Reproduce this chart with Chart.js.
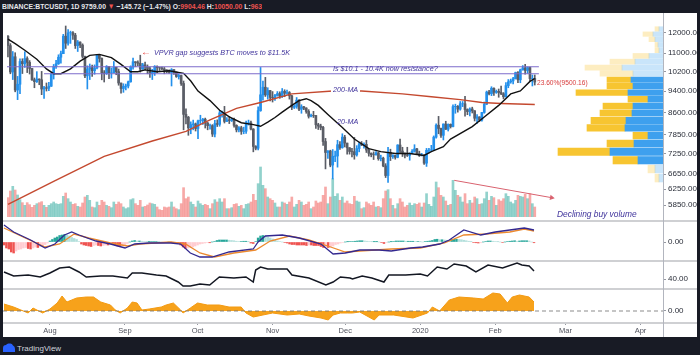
<!DOCTYPE html>
<html><head><meta charset="utf-8">
<script src="https://cdn.jsdelivr.net/npm/chart.js"></script>
<style>
html,body{margin:0;padding:0;background:#181b25;width:700px;height:355px;overflow:hidden;font-family:'Liberation Sans',Arial,sans-serif}
#panel{position:absolute;left:3px;top:13px;width:694px;height:324px;background:#fff}
canvas{position:absolute}
.sep{position:absolute;left:3px;width:694px;height:2px;background:#cfd0d3}
.ann{position:absolute;white-space:nowrap;font-style:italic;color:#40349c;font-family:'Liberation Sans',Arial,sans-serif;line-height:1}
#hdr{position:absolute;left:2px;top:2px;width:306px;height:11px;overflow:hidden;white-space:nowrap;font:bold 8px 'Liberation Sans',Arial,sans-serif;color:#e8e9ed;line-height:9px;transform:scaleX(0.85);transform-origin:0 0}
#hdr .r{color:#ef5350}
#logo{position:absolute;left:3px;top:343px;height:10px;font:8px 'Liberation Sans',Arial,sans-serif;color:#d1d4dc;line-height:10px;white-space:nowrap}
</style></head><body>
<div id="hdr">BINANCE:BTCUSDT, 1D 9759.00 <span class="r">▼</span> −145.72 (−1.47%) O:<span class="r">9904.46</span> H:<span class="r">10050.00</span> L:<span class="r">9638.12</span> C:<span class="r">9759.00</span></div>
<div id="panel"></div>
<canvas id="cPrice" width="694" height="208" style="left:3px;top:13px;width:694px;height:208px"></canvas>
<canvas id="cVp" width="660" height="208" style="left:3px;top:13px;width:660px;height:208px"></canvas>
<canvas id="cMacd" width="694" height="40" style="left:3px;top:221px;width:694px;height:40px"></canvas>
<canvas id="cRsi" width="694" height="28" style="left:3px;top:261px;width:694px;height:28px"></canvas>
<canvas id="cOsc" width="694" height="48" style="left:3px;top:289px;width:694px;height:48px"></canvas>
<div class="sep" style="top:220px"></div>
<div class="sep" style="top:260px"></div>
<div class="sep" style="top:288px"></div>
<div class="sep" style="top:322px"></div>
<div style="position:absolute;left:663px;top:13px;width:1px;height:324px;background:#b2b5be"></div>

<div class="ann" style="left:141px;top:47px;font-size:10px;font-style:normal;font-weight:bold;color:#e53935">←</div>
<div class="ann" style="left:154px;top:49px;font-size:7.2px">VPVR gap suggests BTC moves to $11.5K</div>
<div class="ann" style="left:333px;top:65px;font-size:7.2px">Is $10.1 - 10.4K now resistance?</div>
<div class="ann" style="left:331px;top:86px;font-size:7.2px;background:#fff;padding:0 2px">200-MA</div>
<div class="ann" style="left:337px;top:118px;font-size:7.2px">20-MA</div>
<div class="ann" style="left:537px;top:80px;font-size:6.6px;font-style:normal;color:#d83b3b">23.60%(9500.16)</div>
<div class="ann" style="left:557px;top:210px;font-size:8.4px">Declining buy volume</div>

<div id="logo"><svg width="12" height="9" viewBox="0 0 12 9" style="vertical-align:-1px"><path d="M0 9 L0 5 Q0 2 3 2 Q4 0 6.5 0.5 Q9 0 10 2.5 Q12 3 12 6 L12 9 Z" fill="#2962ff"/></svg> TradingView</div>

<script>
// ---------------- DATA ----------------
// daily candles, BINANCE:BTCUSDT, 2019-07-13 .. 2020-02-17 (index 0 = Jul 13)
const open = [11810,11355,10175,10840,9440,9670,10630,10530,10760,10590,10325,9850,9775,9880,9850,9480,9530,9510,9590,
10085,10400,10530,10820,10980,11810,11470,11975,11980,11860,11355,11525,11380,10860,10015,10300,10360,10230,10345,10920,10765,10135,10110,10405,10140,10140,10375,10190,9720,9500,9585,
9600,9770,10385,10620,10580,10550,10300,10480,10390,10320,10100,10160,10415,10360,10350,10305,10260,10185,10155,10275,10170,9985,10030,9700,8530,8430,8065,8175,8200,8045,
8305,8315,8360,8230,8140,8140,7860,8210,8185,8585,8590,8285,8340,8315,8355,8150,8000,8070,7950,7955,8230,8235,8025,7465,7410,8665,9255,9550,9250,9420,9155,
9140,9230,9300,9195,9385,9315,9340,9215,8785,8820,9050,8715,8805,8760,8635,8465,8495,8490,8170,8125,8080,7620,7280,7325,6910,7165,7175,7520,7430,7760,
7570,7425,7310,7305,7210,7400,7545,7510,7530,7355,7255,7215,7210,7270,7095,7110,6885,6615,7280,7155,7190,7135,7510,7325,7250,7205,7195,7255,7315,7390,7245,
7195,7200,6965,7345,7355,7360,7760,8155,8045,7820,8195,8020,8185,8110,8810,8820,8720,8915,8915,8705,8630,8725,8660,8395,8440,8330,8600,8900,9360,9295,9510,
9350,9390,9345,9295,9180,9615,9765,9805,9895,10150,9850,10270,10350,10240,10365,9900,9905];
const high = [11840,11450,11080,11025,9990,10750,10750,11070,10840,10670,10330,9925,10190,9890,10200,9590,9720,9750,10130,
10500,10680,10930,11100,11900,12320,12140,12060,12040,11950,11600,11540,11440,10875,10440,10520,10470,10480,10950,10950,10790,10235,10450,10420,10350,10630,10380,10300,9720,9690,9680,
9800,10440,10780,10620,10660,10910,10550,10600,10480,10390,10290,10450,10440,10380,10380,10370,10275,10270,10320,10280,10180,10090,10050,9800,8730,8460,8270,8330,8230,8330,
8500,8390,8400,8250,8190,8175,8320,8340,8660,8650,8820,8420,8460,8390,8400,8170,8110,8120,8090,8300,8330,8300,8040,7490,8800,10370,9800,9950,9530,9430,9380,
9270,9380,9370,9500,9450,9440,9380,9235,8880,9150,9070,8880,8820,8770,8700,8540,8640,8500,8220,8190,8115,7720,7340,7350,7370,7320,7660,7620,7870,7820,
7570,7430,7410,7750,7490,7600,7620,7580,7660,7400,7270,7300,7310,7290,7200,7140,6950,7440,7380,7220,7200,7520,7700,7440,7270,7440,7270,7370,7520,7410,7320,
7255,7215,7405,7405,7500,7800,8200,8460,8055,8200,8290,8200,8200,8880,8900,8850,9000,9000,9200,8730,8770,8790,8665,8520,8450,8600,8980,9400,9430,9570,9530,
9440,9480,9600,9340,9740,9860,9880,9950,10170,10190,10300,10450,10500,10390,10380,10050,10050];
const low = [10830,10100,9860,9370,9070,9300,10110,10370,10150,10090,9820,9530,9740,9650,9260,9115,9400,9410,9580,
9880,10330,10500,10560,10980,11220,11380,11460,11650,11220,11080,11260,10780,9940,9480,9860,9990,10080,10310,10600,9850,9760,10070,9900,9920,10140,10060,9630,9320,9350,9440,
9520,9750,10290,10400,10450,10170,10290,10270,10100,9950,9860,10030,10150,10240,10270,10100,10140,10120,9600,10070,9950,9880,9620,8000,8200,7820,7870,8000,7960,7710,
8210,8180,8060,8000,8020,7780,7770,8110,8120,8430,8230,8280,8210,8280,8090,7930,7930,7850,7870,7880,8160,8000,7300,7360,7360,8640,9050,9190,9090,9020,8980,
9040,9200,9120,9150,9180,9270,9090,8700,8740,8750,8660,8570,8700,8570,8400,8440,8420,8050,8010,8000,7500,6800,7100,6860,6520,7010,6850,7370,7410,7450,
7230,7230,7150,7080,7170,7300,7490,7410,7280,7170,7150,7070,7200,7050,7030,6860,6560,6430,7040,7100,7080,7120,7260,7160,7120,7160,7050,7250,7290,7220,7160,
7175,6925,6870,7270,7310,7350,7730,7870,7750,7670,8010,7960,8060,8100,8570,8610,8680,8810,8470,8520,8480,8580,8300,8220,8280,8290,8570,8880,9250,9220,9230,
9310,9160,9260,9100,9160,9530,9710,9680,9880,9730,9730,10250,10080,10120,9800,9600,9638];
const close = [11355,10175,10840,9440,9670,10630,10530,10760,10590,10325,9850,9775,9880,9850,9480,9530,9510,9590,10085,
10400,10530,10820,10980,11810,11470,11975,11980,11860,11355,11525,11380,10860,10015,10300,10360,10230,10345,10920,10765,10135,10110,10405,10140,10140,10375,10190,9720,9500,9585,9600,
9770,10385,10620,10580,10550,10300,10480,10390,10320,10100,10160,10415,10360,10350,10305,10260,10185,10155,10275,10170,9985,10030,9700,8530,8430,8065,8175,8200,8045,8305,
8315,8360,8230,8140,8140,7860,8210,8185,8585,8590,8285,8340,8315,8355,8150,8000,8070,7950,7955,8230,8235,8025,7465,7410,8665,9255,9550,9250,9420,9155,9140,
9230,9300,9195,9385,9315,9340,9215,8785,8820,9050,8715,8805,8760,8635,8465,8495,8490,8170,8125,8080,7620,7280,7325,6910,7165,7175,7520,7430,7760,7570,
7425,7310,7305,7210,7400,7545,7510,7530,7355,7255,7215,7210,7270,7095,7110,6885,6615,7280,7155,7190,7135,7510,7325,7250,7205,7195,7255,7315,7390,7245,7195,
7200,6965,7345,7355,7360,7760,8155,8045,7820,8195,8020,8185,8110,8810,8820,8720,8915,8915,8705,8630,8725,8660,8395,8440,8330,8600,8900,9360,9295,9510,9350,
9390,9345,9295,9180,9615,9765,9805,9895,10150,9850,10270,10350,10240,10365,9900,9905,9759];
// daily volume (thousand BTC)
const volume = [58,78,92,81,66,52,43,35,43,37,29,35,40,43,46,35,29,35,40,
45,40,38,40,62,72,55,45,38,40,32,30,42,60,65,50,30,28,45,35,50,45,35,32,28,45,38,45,40,30,25,
28,52,55,40,35,50,30,32,36,42,40,38,30,22,20,30,28,30,45,30,25,22,40,88,55,60,45,38,30,48,
40,35,38,35,25,40,52,45,55,45,55,25,25,28,38,40,32,35,25,38,40,45,68,50,100,150,95,85,60,55,50,
42,30,30,45,42,38,45,60,30,38,50,45,35,38,45,25,30,48,42,45,65,90,40,60,115,62,70,50,60,42,
48,40,38,62,48,45,25,28,45,40,35,45,30,32,28,55,78,82,55,35,25,40,55,45,30,35,42,35,40,38,42,
30,42,70,38,32,60,105,88,65,60,48,35,38,110,80,65,60,45,70,40,50,42,60,55,38,40,55,75,50,62,58,
35,52,48,55,70,62,45,40,50,65,62,60,68,55,70,40,30];
// moving averages: [day, price]
const ma20 = [[0,11669],[3,11450],[7,11140],[12,10729],[16,10307],[19,10103],[22,10103],[26,10307],[30,10643],[34,10902],[38,10947],[43,10800],[47,10500],[51,10184],[54,10184],[57,10265],[62,10184],[67,10225],[73,10120],[76,9800],[79,9400],[84,9034],[88,8680],[92,8440],[97,8239],[102,8173],[105,8120],[108,8260],[111,8420],[114,8610],[118,8855],[121,9034],[124,9105],[126,9034],[129,8855],[133,8530],[139,8076],[144,7698],[150,7396],[155,7307],[161,7248],[167,7248],[173,7190],[176,7307],[181,7456],[184,7698],[193,8108],[198,8440],[204,8855],[209,9289],[213,9402],[217,9785],[219,9904]];
const ma200 = [[0,5866],[19,6455],[40,7163],[60,7637],[74,7948],[84,8339],[95,8748],[105,8962],[118,9289],[135,9402],[147,9402],[164,9289],[176,9179],[188,9070],[197,8962],[205,8926],[219,8890]];
// resistance band and declining-volume arrow
const resHigh = 10400, resLow = 10100;
const resSpan = [[-0.4,220.7],[15,220.7]];
const volArrow = [[185.5,110],[226,58]];
// MACD pane: [day, value]
const macdLine = [[0,340],[4,200],[11,40],[17,-120],[21,-40],[25,140],[28,200],[31,140],[38,20],[44,-40],[50,-120],[54,-40],[60,-20],[69,-20],[73,-40],[77,-220],[81,-300],[86,-300],[93,-200],[103,-140],[105,0],[108,120],[115,140],[122,80],[131,-40],[136,-240],[141,-220],[147,-160],[155,-160],[160,-180],[168,-120],[173,-100],[180,-40],[184,40],[190,240],[197,140],[203,200],[209,240],[215,280],[219,240]];
const signalLine = [[0,280],[7,120],[17,-100],[23,-40],[29,160],[35,80],[44,-20],[51,-80],[56,-40],[69,0],[75,-40],[81,-220],[87,-300],[95,-220],[104,-160],[110,20],[118,120],[126,40],[135,-100],[141,-200],[147,-180],[160,-140],[172,-120],[182,-20],[190,140],[199,160],[209,200],[215,260],[219,220]];
const macdHist = [-60,-120,-140,-200,-220,-180,-150,-140,-120,-110,-130,-140,-120,-100,-110,-90,-70,-50,-20,
20,50,80,100,130,140,150,140,120,90,70,50,
10,-40,-60,-70,-80,-90,-70,-60,-70,-80,-70,-60,-60,-50,-50,-60,-80,-90,-80,
-60,-30,0,20,30,20,20,15,10,5,5,10,10,10,5,0,-5,-5,0,-5,-10,-10,-20,
-60,-100,-130,-120,-110,-100,-80,
-60,-40,-30,-20,-10,-15,0,10,30,40,40,40,40,35,30,25,15,10,10,15,15,5,-20,-30,
10,80,120,130,120,100,80,60,40,20,10,0,-10,-20,
-40,-50,-50,-60,-60,-60,-60,-70,-60,-60,-70,-70,-70,-90,-110,-100,-110,-100,-80,-50,-40,-20,-10,
0,5,10,10,15,20,25,25,20,15,10,5,5,5,0,-10,-30,-10,0,5,10,20,20,20,20,15,15,15,15,10,10,
5,0,10,15,20,30,50,55,45,45,40,35,30,50,55,55,50,45,35,25,15,5,-10,-15,-20,-15,0,10,20,20,15,
10,5,0,-10,0,10,15,20,25,15,20,25,25,25,20,0,-15];
// oscillator pane (black line): [day, value]
const rsiLine = [[0,50.5],[4,44.5],[10,46],[15,43],[19,49],[23,56.5],[27,58],[31,50.5],[34,43],[40,44.5],[45,44.5],[51,41.5],[53,49],[57,49],[63,46],[67,44.5],[72,35.5],[74,29.5],[77,29.5],[81,32.5],[85,31],[89,43],[95,41.5],[100,43],[103,35.5],[104,53.5],[106,58],[109,55],[117,55],[119,46],[126,41.5],[133,31],[136,35.5],[139,43],[143,41.5],[144,40],[148,44.5],[152,41.5],[157,35.5],[159,46],[166,46],[172,47.5],[175,44.5],[179,58],[183,55],[186,62.5],[191,59.5],[195,50.5],[200,61],[206,56.5],[212,64],[214,61],[217,59.5],[219,52]];
// orange area pane: [day, value]
const oscArea = [[0,7],[4,4],[7,1],[10,-2],[12,3],[16,-2],[19,2],[22,8],[24,15],[26,9],[30,13],[34,14],[37,14],[40,9],[44,6],[46,1],[48,-2],[51,3],[53,9],[55,8],[57,1],[60,2],[65,4],[67,6],[70,8],[73,1],[74,-2],[77,3],[80,8],[84,6],[89,6],[93,4],[98,4],[100,-2],[103,-6],[107,-4],[111,-2],[117,-4],[122,-3],[126,-5],[131,-7],[134,-9],[136,-4],[139,-2],[142,-2],[144,-2],[147,-1],[153,-9],[155,-4],[161,-4],[169,-7],[175,-2],[177,4],[180,0],[184,11],[188,14],[194,13],[198,12],[202,18],[205,17],[208,8],[210,14],[213,16],[217,14],[219,9]];
// visible-range volume profile
const vpBins = [12000,11755,11510,11265,11020,10775,10530,10285,10040,9795,9550,9305,9060,8815,8570,8325,8080,7835,7590,7345,7100,6855,6610];
const vpUp   = [4,10,8,5,4,14,28,41,30,32,30,35,15,30,31,37,38,15,29,53,25,8,4];
const vpDown = [4,10,6,3,4,16,25,37,33,24,26,52,20,30,32,35,38,15,27,52,25,7,4];
const vpValueArea = [6980, 9920];
// axes
const priceTicks = [12000,11000,10200,9400,8600,7850,7250,6650,6250,5850];
const monthDays = [19,50,80,111,141,172,203,232,263];
const monthLabels = ['Aug','Sep','Oct','Nov','Dec','2020','Feb','Mar','Apr'];

// ---------------- CHARTS ----------------
const X_MIN = -0.4, X_MAX = 272.3, P_MIN = 5567, P_MAX = 12790, VOL_MAX = 600;
const UP = '#2390ec', DOWN = '#5a5d66';
Chart.defaults.font.family = "'Liberation Sans Narrow','Liberation Sans',Arial,sans-serif";
Chart.defaults.animation = false;
const pts = a => a.map(([x, y]) => ({x, y}));
const fitRight = s => { s.width = 34; s.paddingTop = 0; s.paddingBottom = 0; };
const baseOpts = () => ({
  responsive: false, devicePixelRatio: 1, animation: false,
  layout: {padding: 0},
  plugins: {legend: {display: false}, tooltip: {enabled: false}},
  events: []
});
const rightAxis = (min, max, ticks, fmt, type) => ({
  type: type || 'linear', position: 'right', min, max,
  afterBuildTicks: s => { s.ticks = ticks.map(v => ({value: v})); },
  afterFit: fitRight,
  ticks: {callback: v => fmt(v), font: {size: 8}, color: '#2a2e39', padding: 2, autoSkip: false, maxRotation: 0},
  grid: {drawOnChartArea: false, tickLength: 3, color: '#9598a1'},
  border: {display: false}
});
const hiddenX = () => ({type: 'linear', min: X_MIN, max: X_MAX, display: false, offset: false});

const isUp = close.map((c, i) => c >= open[i]);
const candleCol = isUp.map(u => u ? UP : DOWN);
const volCol = isUp.map(u => u ? 'rgba(38,166,154,0.5)' : 'rgba(239,83,80,0.5)');

new Chart(document.getElementById('cPrice'), {
  type: 'bar',
  data: {datasets: [
    {data: volume.map((v, i) => ({x: i, y: v})), yAxisID: 'yv', backgroundColor: volCol, barThickness: 2, grouped: false, order: 10},
    {data: close.map((c, i) => ({x: i, y: [low[i], high[i]]})), yAxisID: 'y', backgroundColor: candleCol, barThickness: 1, grouped: false, order: 8},
    {data: close.map((c, i) => ({x: i, y: [open[i], c]})), yAxisID: 'y', backgroundColor: candleCol, barThickness: 2, grouped: false, order: 7},
    {type: 'line', data: pts(ma200), yAxisID: 'y', borderColor: '#c4492f', borderWidth: 1.4, pointRadius: 0, tension: 0, order: 5},
    {type: 'line', data: pts(ma20), yAxisID: 'y', borderColor: '#111', borderWidth: 1.4, pointRadius: 0, tension: 0, order: 4},
    {type: 'line', data: [{x: resSpan[0][0], y: resHigh}, {x: resSpan[0][1], y: resHigh}], yAxisID: 'y', borderColor: '#7d6bcb', borderWidth: 1.2, pointRadius: 0, order: 3},
    {type: 'line', data: [{x: resSpan[1][0], y: resLow}, {x: resSpan[1][1], y: resLow}], yAxisID: 'y', borderColor: '#7d6bcb', borderWidth: 1.2, pointRadius: 0, order: 3},
    {type: 'line', data: pts(volArrow), yAxisID: 'yv', borderColor: '#d9626f', borderWidth: 1, pointRadius: [0, 3.2], pointStyle: 'triangle', rotation: 100, pointBackgroundColor: '#d9626f', pointBorderWidth: 0, order: 2}
  ]},
  options: Object.assign(baseOpts(), {
    scales: {
      x: hiddenX(),
      y: rightAxis(P_MIN, P_MAX, priceTicks, v => v.toFixed(2), 'logarithmic'),
      yv: {type: 'linear', display: false, min: 0, max: VOL_MAX}
    }
  })
});

const inVA = p => p >= vpValueArea[0] && p <= vpValueArea[1];
new Chart(document.getElementById('cVp'), {
  type: 'bar',
  data: {datasets: [
    {data: vpBins.map((p, i) => ({y: p, x: vpUp[i]})), backgroundColor: vpBins.map(p => inVA(p) ? '#3ea0ee' : 'rgba(62,160,238,0.28)'), barThickness: 'flex', barPercentage: 0.86, categoryPercentage: 1},
    {data: vpBins.map((p, i) => ({y: p, x: vpDown[i]})), backgroundColor: vpBins.map(p => inVA(p) ? '#f7c531' : 'rgba(247,197,49,0.3)'), barThickness: 'flex', barPercentage: 0.86, categoryPercentage: 1}
  ]},
  options: Object.assign(baseOpts(), {
    indexAxis: 'y',
    scales: {
      x: {type: 'linear', reverse: true, min: 0, max: 660, display: false, stacked: true},
      y: {type: 'logarithmic', min: P_MIN, max: P_MAX, display: false, stacked: true}
    }
  })
});

const histCol = macdHist.map((v, i) => {
  const prev = i ? macdHist[i - 1] : v;
  if (v >= 0) return v >= prev ? '#26a69a' : '#b2dfdb';
  return v <= prev ? '#ef5350' : '#ffcdd2';
});
new Chart(document.getElementById('cMacd'), {
  type: 'bar',
  data: {datasets: [
    {data: macdHist.map((v, i) => ({x: i, y: v})), backgroundColor: histCol, barThickness: 1.8, order: 3},
    {type: 'line', data: pts(signalLine), borderColor: '#ec8a2f', borderWidth: 1.3, pointRadius: 0, tension: 0, order: 2},
    {type: 'line', data: pts(macdLine), borderColor: '#33288f', borderWidth: 1.3, pointRadius: 0, tension: 0, order: 1}
  ]},
  options: Object.assign(baseOpts(), {
    scales: {x: hiddenX(), y: rightAxis(-380, 420, [0], v => v.toFixed(2))}
  })
});

new Chart(document.getElementById('cRsi'), {
  type: 'line',
  data: {datasets: [
    {data: pts(rsiLine), borderColor: '#131722', borderWidth: 1.5, pointRadius: 0, tension: 0}
  ]},
  options: Object.assign(baseOpts(), {
    scales: {x: hiddenX(), y: rightAxis(25, 67, [40], v => v.toFixed(2))}
  })
});

new Chart(document.getElementById('cOsc'), {
  type: 'line',
  data: {datasets: [
    {data: [{x: X_MIN, y: 0}, {x: X_MAX, y: 0}], borderColor: 'rgba(110,110,110,0.8)', borderWidth: 1, borderDash: [4, 3], pointRadius: 0, order: 0},
    {data: pts(oscArea), borderColor: '#f39a12', backgroundColor: '#f7a21b', fill: {value: 0}, borderWidth: 1, pointRadius: 0, tension: 0, order: 1}
  ]},
  options: Object.assign(baseOpts(), {
    scales: {
      x: {type: 'linear', position: 'bottom', min: X_MIN, max: X_MAX, offset: false,
        afterBuildTicks: s => { s.ticks = monthDays.map(v => ({value: v})); },
        afterFit: s => { s.height = 14; s.paddingLeft = 0; s.paddingRight = 0; },
        ticks: {callback: (v, i) => monthLabels[i], font: {size: 7.5}, color: '#50535e', padding: 1, autoSkip: false, maxRotation: 0},
        grid: {drawOnChartArea: false, tickLength: 2, color: '#9598a1'},
        border: {display: false}
      },
      y: rightAxis(-12, 22, [0], v => v.toFixed(2))
    }
  })
});
</script>
</body></html>
